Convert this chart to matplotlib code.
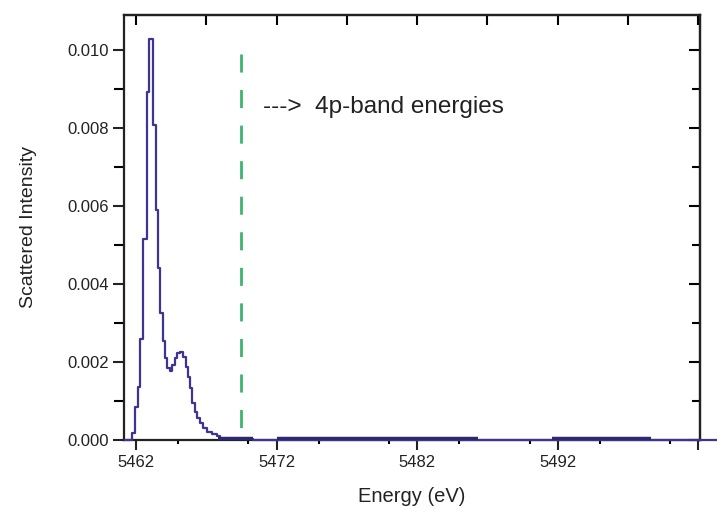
import matplotlib
matplotlib.use("Agg")
import matplotlib.pyplot as plt
from matplotlib.ticker import MultipleLocator

plt.rcParams['font.family'] = ['Liberation Sans', 'DejaVu Sans']

# step spectrum (left edge of each step, intensity)
energy = [5461.20, 5461.74, 5461.93, 5462.12, 5462.28, 5462.52, 5462.77, 5462.92,
          5463.23, 5463.40, 5463.58, 5463.68, 5463.92, 5464.09, 5464.23, 5464.40,
          5464.55, 5464.75, 5464.95, 5465.15, 5465.35, 5465.55, 5465.70, 5465.85,
          5466.00, 5466.18, 5466.36, 5466.55, 5466.80, 5467.07, 5467.43, 5467.74,
          5468.00, 5470.30, 5503.30]
intensity = [0.0, 0.00018, 0.00085, 0.00137, 0.00259, 0.00515, 0.00893, 0.01028,
             0.00808, 0.00590, 0.00441, 0.00326, 0.00255, 0.00210, 0.00185, 0.00178,
             0.00192, 0.00210, 0.00222, 0.00226, 0.00214, 0.00188, 0.00162, 0.00133,
             0.00094, 0.00073, 0.00056, 0.00043, 0.00030, 0.00021, 0.00015, 0.00010,
             0.00003, 0.0, 0.0]

# energy ranges where the baseline is noisy (drawn thicker)
noise_start = [5467.8, 5472.0, 5491.6]
noise_end = [5470.3, 5486.3, 5498.6]
noise_level = 0.00003

edge_energy = 5469.45
edge_top = 0.0099

xticks = [5462, 5472, 5482, 5492, 5502]
xtick_labels = ['5462', '5472', '5482', '5492', '']
yticks = [0.000, 0.002, 0.004, 0.006, 0.008, 0.010]
ytick_labels = ['0.000', '0.002', '0.004', '0.006', '0.008', '0.010']

fig = plt.figure(figsize=(7.17, 5.09), dpi=100)
ax = fig.add_axes([0.173, 0.1356, 0.803, 0.835])

line_color = '#3d3591'
ax.plot(energy, intensity, drawstyle='steps-post', color=line_color, lw=1.6,
        clip_on=False, zorder=3)
for s, e in zip(noise_start, noise_end):
    ax.plot([s, e], [noise_level, noise_level], color='#2e2870', lw=3.2,
            solid_capstyle='butt', zorder=3)

ax.plot([edge_energy, edge_energy], [edge_top, 0], color='#3cb46e', lw=2,
        dashes=(6.5, 6.3), zorder=2)
ax.text(5471.0, 0.00855, '--->  4p-band energies', fontsize=17.5, va='center',
        ha='left', color='#222222')

ax.set_xlim(5461.15, 5502.1)
ax.set_ylim(0, 0.0109)
ax.set_xticks(xticks, labels=xtick_labels)
ax.set_yticks(yticks, labels=ytick_labels)
ax.xaxis.set_minor_locator(MultipleLocator(5))
ax.yaxis.set_minor_locator(MultipleLocator(0.001))

ax.tick_params(axis='both', which='major', direction='out', width=1.5,
               labelsize=12, colors='#222222')
ax.tick_params(axis='x', which='major', length=7, pad=4)
ax.tick_params(axis='y', which='major', length=8, pad=3)
ax.tick_params(axis='x', which='minor', direction='out', length=3, width=1.5)
ax.tick_params(axis='y', which='minor', direction='out', length=7, width=1.5)

# top and right axes with inward ticks
top = ax.secondary_xaxis('top')
top.set_xticks([5462, 5467, 5472, 5477, 5482, 5487, 5492, 5497, 5502])
top.tick_params(direction='in', length=7, width=1.5, labeltop=False)
right = ax.secondary_yaxis('right')
right.set_yticks(yticks)
right.yaxis.set_minor_locator(MultipleLocator(0.001))
right.tick_params(which='major', direction='in', length=8, width=1.5, labelright=False)
right.tick_params(which='minor', direction='in', length=6, width=1.5)

for sp in list(ax.spines.values()) + [top.spines['top'], right.spines['right']]:
    sp.set_linewidth(1.6)
    sp.set_color('#222222')

ax.set_xlabel('Energy (eV)', fontsize=14.5, labelpad=12, color='#222222')
ax.set_ylabel('Scattered Intensity', fontsize=14, labelpad=22, color='#222222')

fig.savefig('out.png', dpi=100)
